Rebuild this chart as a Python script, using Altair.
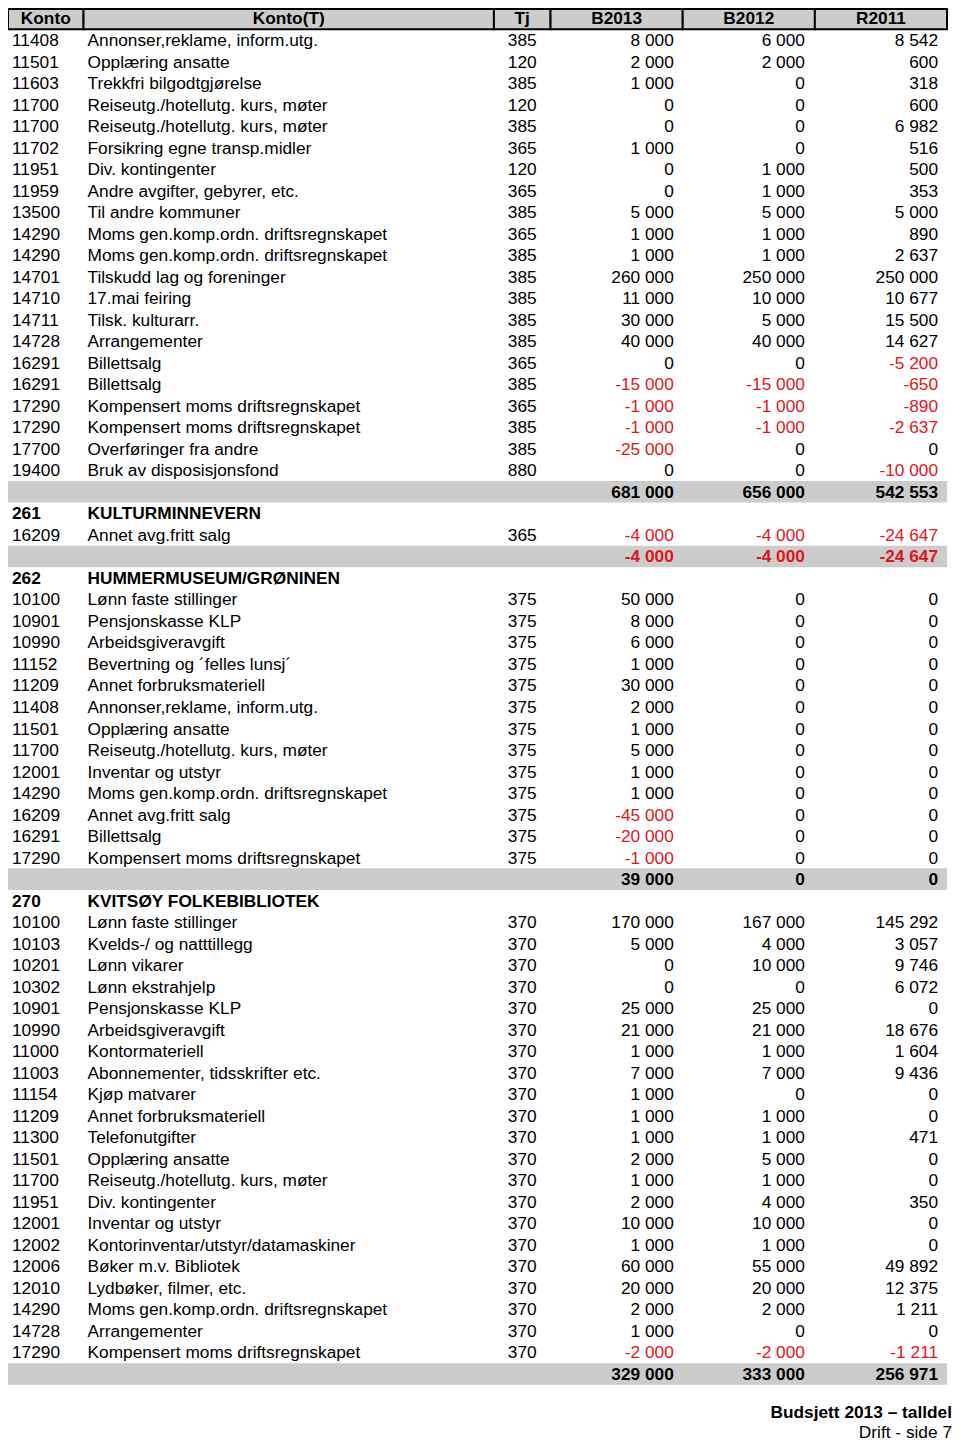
import altair as alt
import pandas as pd

# ---------------- data ----------------
KIND = (["d"] * 21 + ["t", "s", "d", "t", "s"] + ["d"] * 13 + ["t", "s"] + ["d"] * 21 + ["t"])

KONTO = ["11408", "11501", "11603", "11700", "11700", "11702", "11951", "11959", "13500", "14290",
         "14290", "14701", "14710", "14711", "14728", "16291", "16291", "17290", "17290", "17700",
         "19400", "", "261", "16209", "", "262",
         "10100", "10901", "10990", "11152", "11209", "11408", "11501", "11700", "12001", "14290",
         "16209", "16291", "17290", "", "270",
         "10100", "10103", "10201", "10302", "10901", "10990", "11000", "11003", "11154", "11209",
         "11300", "11501", "11700", "11951", "12001", "12002", "12006", "12010", "14290", "14728",
         "17290", ""]

TEKST = ["Annonser,reklame, inform.utg.", "Opplæring ansatte", "Trekkfri bilgodtgjørelse",
         "Reiseutg./hotellutg. kurs, møter", "Reiseutg./hotellutg. kurs, møter",
         "Forsikring egne transp.midler", "Div. kontingenter", "Andre avgifter, gebyrer, etc.",
         "Til andre kommuner", "Moms gen.komp.ordn. driftsregnskapet",
         "Moms gen.komp.ordn. driftsregnskapet", "Tilskudd lag og foreninger", "17.mai feiring",
         "Tilsk. kulturarr.", "Arrangementer", "Billettsalg", "Billettsalg",
         "Kompensert moms driftsregnskapet", "Kompensert moms driftsregnskapet",
         "Overføringer fra andre", "Bruk av disposisjonsfond", "",
         "KULTURMINNEVERN", "Annet avg.fritt salg", "", "HUMMERMUSEUM/GRØNINEN",
         "Lønn faste stillinger", "Pensjonskasse KLP", "Arbeidsgiveravgift",
         "Bevertning og ´felles lunsj´", "Annet forbruksmateriell", "Annonser,reklame, inform.utg.",
         "Opplæring ansatte", "Reiseutg./hotellutg. kurs, møter", "Inventar og utstyr",
         "Moms gen.komp.ordn. driftsregnskapet", "Annet avg.fritt salg", "Billettsalg",
         "Kompensert moms driftsregnskapet", "", "KVITSØY FOLKEBIBLIOTEK",
         "Lønn faste stillinger", "Kvelds-/ og natttillegg", "Lønn vikarer", "Lønn ekstrahjelp",
         "Pensjonskasse KLP", "Arbeidsgiveravgift", "Kontormateriell",
         "Abonnementer, tidsskrifter etc.", "Kjøp matvarer", "Annet forbruksmateriell",
         "Telefonutgifter", "Opplæring ansatte", "Reiseutg./hotellutg. kurs, møter",
         "Div. kontingenter", "Inventar og utstyr", "Kontorinventar/utstyr/datamaskiner",
         "Bøker m.v. Bibliotek", "Lydbøker, filmer, etc.", "Moms gen.komp.ordn. driftsregnskapet",
         "Arrangementer", "Kompensert moms driftsregnskapet", ""]

TJ = ["385", "120", "385", "120", "385", "365", "120", "365", "385", "365",
      "385", "385", "385", "385", "385", "365", "385", "365", "385", "385",
      "880", "", "", "365", "", "",
      "375", "375", "375", "375", "375", "375", "375", "375", "375", "375",
      "375", "375", "375", "", "",
      "370", "370", "370", "370", "370", "370", "370", "370", "370", "370",
      "370", "370", "370", "370", "370", "370", "370", "370", "370", "370",
      "370", ""]

B2013 = [8000, 2000, 1000, 0, 0, 1000, 0, 0, 5000, 1000,
         1000, 260000, 11000, 30000, 40000, 0, -15000, -1000, -1000, -25000,
         0, 681000, None, -4000, -4000, None,
         50000, 8000, 6000, 1000, 30000, 2000, 1000, 5000, 1000, 1000,
         -45000, -20000, -1000, 39000, None,
         170000, 5000, 0, 0, 25000, 21000, 1000, 7000, 1000, 1000,
         1000, 2000, 1000, 2000, 10000, 1000, 60000, 20000, 2000, 1000,
         -2000, 329000]

B2012 = [6000, 2000, 0, 0, 0, 0, 1000, 1000, 5000, 1000,
         1000, 250000, 10000, 5000, 40000, 0, -15000, -1000, -1000, 0,
         0, 656000, None, -4000, -4000, None,
         0, 0, 0, 0, 0, 0, 0, 0, 0, 0,
         0, 0, 0, 0, None,
         167000, 4000, 10000, 0, 25000, 21000, 1000, 7000, 0, 1000,
         1000, 5000, 1000, 4000, 10000, 1000, 55000, 20000, 2000, 0,
         -2000, 333000]

R2011 = [8542, 600, 318, 600, 6982, 516, 500, 353, 5000, 890,
         2637, 250000, 10677, 15500, 14627, -5200, -650, -890, -2637, 0,
         -10000, 542553, None, -24647, -24647, None,
         0, 0, 0, 0, 0, 0, 0, 0, 0, 0,
         0, 0, 0, 0, None,
         145292, 3057, 9746, 6072, 0, 18676, 1604, 9436, 0, 0,
         471, 0, 0, 350, 0, 0, 49892, 12375, 1211, 0,
         -1211, 256971]

HEADERS = ["Konto", "Konto(T)", "Tj", "B2013", "B2012", "R2011"]
FOOTER = ["Budsjett 2013 – talldel", "Drift - side 7"]

# ---------------- layout (style) ----------------
FONT = "Liberation Sans"
FS = 17.3
RED = "#e3151a"
GREY = "#cccccc"
COL_EDGES = [3, 79, 492, 549, 682, 815, 948]
COL_TEXT = [("konto", 7, "left"), ("tekst", 83, "left"), ("tj", 506, "left"),
            ("b2013", 673, "right"), ("b2012", 805, "right"), ("r2011", 939, "right")]
FOOTER_POS = [(64.81, 953, True), (65.74, 953, False)]
W, H = 944, 1433

xs = alt.Scale(domain=[3, 953], range=[0, W], nice=False, zero=False)
ys = alt.Scale(domain=[66.114, -0.487], range=[H, 0], nice=False, zero=False)


def fmt(v):
    if v is None:
        return ""
    return f"{v:,}".replace(",", " ")


# ---------------- build tables ----------------
cells = []
bands = []
for i, kind in enumerate(KIND):
    row = i + 1
    vals = {"konto": KONTO[i], "tekst": TEKST[i], "tj": TJ[i],
            "b2013": B2013[i], "b2012": B2012[i], "r2011": R2011[i]}
    if kind == "t":
        bands.append({"x0": COL_EDGES[0], "x1": COL_EDGES[-1], "y0": row - 0.5, "y1": row + 0.5})
    for key, x, align in COL_TEXT:
        v = vals[key]
        if isinstance(v, str):
            txt, neg = v, False
        else:
            txt, neg = fmt(v), (v is not None and v < 0)
        if txt == "":
            continue
        cells.append({"row": row, "x": x, "align": align, "bold": kind in ("t", "s"),
                      "text": txt, "color": RED if neg else "black"})
cells = pd.DataFrame(cells)
bands = pd.DataFrame(bands)

hdr = pd.DataFrame({
    "label": HEADERS,
    "x0": COL_EDGES[:-1],
    "x1": COL_EDGES[1:],
})
hdr["xc"] = (hdr["x0"] + hdr["x1"]) / 2
hdr["y0"] = -0.44
hdr["y1"] = 0.5
hdr["row"] = 0

foot = pd.DataFrame({"text": FOOTER, "row": [p[0] for p in FOOTER_POS],
                     "x": [p[1] for p in FOOTER_POS], "bold": [p[2] for p in FOOTER_POS]})

# ---------------- layers ----------------
band_layer = alt.Chart(bands).mark_rect(color=GREY).encode(
    x=alt.X("x0:Q", scale=xs, axis=None), x2="x1:Q",
    y=alt.Y("y0:Q", scale=ys, axis=None), y2="y1:Q")

hdr_rect = alt.Chart(hdr).mark_rect(fill=GREY, stroke="black", strokeWidth=2).encode(
    x=alt.X("x0:Q", scale=xs, axis=None), x2="x1:Q",
    y=alt.Y("y0:Q", scale=ys, axis=None), y2="y1:Q")

hdr_text = alt.Chart(hdr).mark_text(font=FONT, fontSize=FS, fontWeight="bold",
                                    align="center", baseline="middle", dy=1).encode(
    x=alt.X("xc:Q", scale=xs, axis=None), y=alt.Y("row:Q", scale=ys, axis=None),
    text="label:N")


def text_layer(align, bold):
    return alt.Chart(cells).transform_filter(
        (alt.datum.align == align) & (alt.datum.bold == bold)
    ).mark_text(font=FONT, fontSize=FS, fontWeight="bold" if bold else "normal",
                align=align, baseline="middle", dy=1).encode(
        x=alt.X("x:Q", scale=xs, axis=None), y=alt.Y("row:Q", scale=ys, axis=None),
        text="text:N", color=alt.Color("color:N", scale=None))


def foot_layer(bold):
    return alt.Chart(foot).transform_filter(alt.datum.bold == bold).mark_text(
        font=FONT, fontSize=FS, fontWeight="bold" if bold else "normal",
        align="right", baseline="middle", color="black").encode(
        x=alt.X("x:Q", scale=xs, axis=None), y=alt.Y("row:Q", scale=ys, axis=None),
        text="text:N")


chart = alt.layer(
    band_layer, hdr_rect, hdr_text,
    text_layer("left", False), text_layer("left", True),
    text_layer("right", False), text_layer("right", True),
    foot_layer(True), foot_layer(False),
).properties(width=W, height=H, padding=0, background="white",
             autosize=alt.AutoSizeParams(type="none")
).configure_view(strokeWidth=0)

chart.save("out.html", embed_options={"renderer": "svg", "actions": False})
